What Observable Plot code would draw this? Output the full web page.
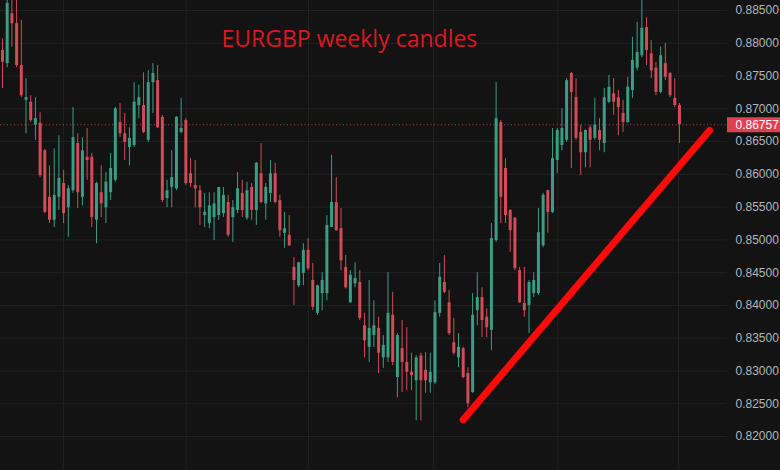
<!DOCTYPE html>
<html>
<head>
<meta charset="utf-8">
<script src="https://cdn.jsdelivr.net/npm/d3@7"></script>
<script src="https://cdn.jsdelivr.net/npm/@observablehq/plot@0.6"></script>
<style>
  html, body { margin: 0; padding: 0; background: #131313; }
  #chart { width: 780px; height: 470px; overflow: hidden; }
</style>
</head>
<body>
<div id="chart"></div>
<script>
// Weekly EURGBP candles (oldest -> newest)
const open = [
  0.8789,0.8769,0.8845,0.8830,0.8766,0.8713,0.8710,0.8675,0.8678,0.8636,
  0.8565,0.8530,0.8565,0.8586,0.8549,0.8575,0.8647,0.8565,0.8626,0.8626,
  0.8530,0.8572,0.8549,0.8572,0.8591,0.8679,0.8662,0.8641,0.8644,0.8705,
  0.8705,0.8652,0.8740,0.8743,0.8687,0.8563,0.8580,0.8578,0.8664,0.8682,
  0.8601,0.8583,0.8575,0.8537,0.8525,0.8534,0.8537,0.8540,0.8557,0.8534,
  0.8545,0.8571,0.8533,0.8580,0.8545,0.8601,0.8555,0.8571,0.8601,0.8560,
  0.8510,0.8507,0.8458,0.8430,0.8449,0.8484,0.8438,0.8388,0.8418,0.8418,
  0.8519,0.8557,0.8517,0.8458,0.8404,0.8433,0.8435,0.8369,0.8336,0.8354,
  0.8365,0.8320,0.8320,0.8385,0.8290,0.8334,0.8313,0.8298,0.8285,0.8323,
  0.8301,0.8282,0.8282,0.8388,0.8435,0.8404,0.8343,0.8320,0.8334,0.8296,
  0.8267,0.8392,0.8412,0.8382,0.8362,0.8499,0.8679,0.8609,0.8545,0.8533,
  0.8453,0.8403,0.8400,0.8418,0.8418,0.8491,0.8575,0.8542,0.8621,0.8644,
  0.8652,0.8754,0.8717,0.8664,0.8633,0.8671,0.8655,0.8667,0.8647,0.8710,
  0.8723,0.8717,0.8693,0.8679,0.8728,0.8762,0.8781,0.8824,0.8784,0.8762,
  0.8725,0.8769,0.8754,0.8716,0.8705
];
const high = [
  0.8807,0.8875,0.8870,0.8868,0.8835,0.8746,0.8720,0.8717,0.8694,0.8638,
  0.8613,0.8639,0.8659,0.8606,0.8583,0.8702,0.8662,0.8656,0.8670,0.8632,
  0.8588,0.8613,0.8603,0.8632,0.8702,0.8708,0.8693,0.8671,0.8740,0.8736,
  0.8755,0.8758,0.8769,0.8766,0.8690,0.8591,0.8636,0.8688,0.8716,0.8685,
  0.8624,0.8621,0.8583,0.8571,0.8572,0.8572,0.8580,0.8580,0.8568,0.8560,
  0.8603,0.8591,0.8588,0.8586,0.8618,0.8647,0.8586,0.8621,0.8617,0.8568,
  0.8542,0.8537,0.8473,0.8466,0.8494,0.8502,0.8464,0.8431,0.8450,0.8537,
  0.8629,0.8595,0.8548,0.8476,0.8453,0.8465,0.8453,0.8388,0.8438,0.8407,
  0.8382,0.8354,0.8450,0.8420,0.8357,0.8377,0.8366,0.8327,0.8323,0.8327,
  0.8328,0.8327,0.8407,0.8464,0.8476,0.8423,0.8380,0.8357,0.8336,0.8305,
  0.8418,0.8450,0.8427,0.8395,0.8525,0.8740,0.8682,0.8624,0.8546,0.8534,
  0.8458,0.8458,0.8438,0.8450,0.8548,0.8571,0.8576,0.8670,0.8670,0.8700,
  0.8746,0.8755,0.8746,0.8675,0.8668,0.8675,0.8716,0.8685,0.8731,0.8751,
  0.8746,0.8728,0.8713,0.8748,0.8809,0.8832,0.8868,0.8839,0.8804,0.8771,
  0.8794,0.8800,0.8755,0.8746,0.8708
];
const low = [
  0.8731,0.8763,0.8794,0.8763,0.8717,0.8662,0.8679,0.8652,0.8595,0.8540,
  0.8525,0.8519,0.8545,0.8525,0.8504,0.8571,0.8548,0.8552,0.8591,0.8519,
  0.8494,0.8534,0.8525,0.8560,0.8588,0.8656,0.8621,0.8613,0.8641,0.8685,
  0.8662,0.8649,0.8693,0.8670,0.8557,0.8549,0.8549,0.8575,0.8662,0.8583,
  0.8580,0.8549,0.8522,0.8519,0.8517,0.8499,0.8530,0.8534,0.8504,0.8496,
  0.8540,0.8534,0.8530,0.8530,0.8522,0.8555,0.8530,0.8557,0.8555,0.8504,
  0.8487,0.8490,0.8400,0.8427,0.8430,0.8453,0.8392,0.8385,0.8392,0.8407,
  0.8519,0.8513,0.8453,0.8425,0.8403,0.8427,0.8377,0.8320,0.8313,0.8336,
  0.8296,0.8304,0.8313,0.8308,0.8259,0.8267,0.8270,0.8270,0.8224,0.8224,
  0.8266,0.8266,0.8279,0.8382,0.8418,0.8354,0.8324,0.8305,0.8288,0.8244,
  0.8266,0.8369,0.8351,0.8351,0.8331,0.8496,0.8525,0.8525,0.8481,0.8453,
  0.8403,0.8382,0.8357,0.8412,0.8415,0.8488,0.8510,0.8540,0.8601,0.8636,
  0.8649,0.8609,0.8652,0.8598,0.8610,0.8610,0.8652,0.8636,0.8633,0.8708,
  0.8690,0.8659,0.8664,0.8678,0.8716,0.8758,0.8778,0.8766,0.8746,0.8720,
  0.8723,0.8743,0.8717,0.8702,0.8647
];
const close = [
  0.8771,0.8861,0.8830,0.8766,0.8720,0.8717,0.8682,0.8685,0.8598,0.8542,
  0.8530,0.8568,0.8594,0.8540,0.8578,0.8656,0.8572,0.8636,0.8621,0.8534,
  0.8586,0.8555,0.8588,0.8609,0.8700,0.8662,0.8649,0.8655,0.8710,0.8717,
  0.8664,0.8740,0.8754,0.8671,0.8560,0.8575,0.8595,0.8687,0.8670,0.8586,
  0.8586,0.8578,0.8549,0.8542,0.8552,0.8555,0.8580,0.8568,0.8507,0.8549,
  0.8578,0.8545,0.8575,0.8545,0.8617,0.8557,0.8580,0.8601,0.8557,0.8514,
  0.8517,0.8491,0.8438,0.8465,0.8484,0.8456,0.8397,0.8430,0.8438,0.8522,
  0.8557,0.8514,0.8468,0.8427,0.8446,0.8441,0.8380,0.8346,0.8365,0.8369,
  0.8327,0.8339,0.8388,0.8313,0.8354,0.8313,0.8298,0.8293,0.8320,0.8285,
  0.8285,0.8298,0.8389,0.8443,0.8420,0.8357,0.8327,0.8336,0.8290,0.8250,
  0.8385,0.8412,0.8377,0.8366,0.8502,0.8685,0.8565,0.8537,0.8514,0.8456,
  0.8404,0.8392,0.8435,0.8438,0.8511,0.8568,0.8542,0.8624,0.8667,0.8670,
  0.8743,0.8725,0.8655,0.8633,0.8667,0.8652,0.8675,0.8652,0.8717,0.8733,
  0.8710,0.8702,0.8679,0.8733,0.8774,0.8786,0.8823,0.8789,0.8758,0.8725,
  0.8781,0.8748,0.8720,0.8705,0.86757
];

// Price axis tick labels
const yTicks = [0.820,0.825,0.830,0.835,0.840,0.845,0.850,0.855,0.860,0.865,0.870,0.875,0.880,0.885];
// Vertical (half-year) grid positions, in candle index units
const gridX = [13, 39.1, 65.1, 91.7, 118.1, 143.8];
// Hand-drawn trend line end points (candle index, price)
const trendX = [98.0, 150.4];
const trendY = [0.82255, 0.86669];
const title = "EURGBP weekly candles";

const UP = "#3a9e85", DOWN = "#d24c57", LABEL_RED = "#e0404f";
const candles = open.map((o, i) => ({i, open: o, high: high[i], low: low[i], close: close[i],
  color: close[i] >= o ? UP : DOWN}));
const last = close[close.length - 1];
const trend = trendX.map((x, k) => ({x, y: trendY[k]}));
const xDomain = [-0.4254, 154.22];
const fmt = d3.format(".5f");

const chart = Plot.plot({
  width: 780,
  height: 470,
  marginLeft: 0,
  marginRight: 53,
  marginTop: 0,
  marginBottom: 0,
  style: {background: "#131313", fontFamily: "Liberation Sans", overflow: "hidden"},
  x: {domain: xDomain, axis: null},
  y: {domain: [0.81481, 0.88653], axis: null},
  color: {type: "identity"},
  marks: [
    Plot.ruleY(yTicks, {stroke: "#222222", strokeWidth: 1}),
    Plot.ruleX(gridX, {stroke: "#222222", strokeWidth: 1}),
    Plot.ruleY([last], {stroke: LABEL_RED, strokeDasharray: "1,2.5", strokeOpacity: 0.85}),
    Plot.ruleX(candles, {x: "i", y1: "low", y2: "high", stroke: "color", strokeWidth: 1}),
    Plot.ruleX(candles, {x: "i", y1: "open", y2: "close", stroke: "color", strokeWidth: 3}),
    Plot.line(trend, {x: "x", y: "y", stroke: "#ff0a0a", strokeWidth: 7, strokeLinecap: "round"}),
    Plot.text([title], {frameAnchor: "top-left", dx: 221, dy: 39, text: d => d, fill: "#dc1820",
      fontSize: 23, fontFamily: "Open Sans", textAnchor: "start", lineAnchor: "middle"}),
    Plot.axisY(yTicks, {anchor: "right", tickSize: 0, tickPadding: 8, tickFormat: fmt,
      fill: "#b2b5be", fontSize: 12, label: null}),
    Plot.ruleY([last], {x1: xDomain[1], x2: xDomain[1] + 20, stroke: LABEL_RED, strokeWidth: 15}),
    Plot.text([last], {x: xDomain[1], y: d => d, text: d => fmt(d), dx: 8, textAnchor: "start",
      fill: "#ffffff", fontSize: 12})
  ]
});
document.getElementById("chart").append(chart);
</script>
</body>
</html>
